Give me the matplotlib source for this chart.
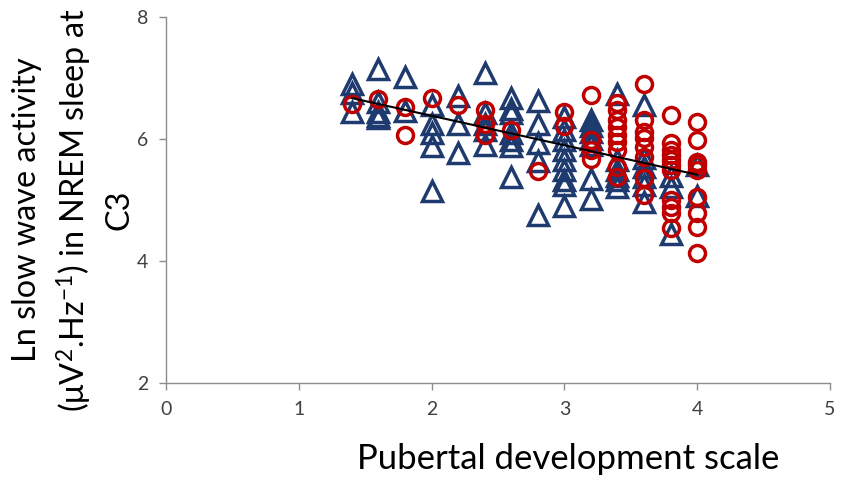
import matplotlib.pyplot as plt
import numpy as np

plt.rcParams['font.family'] = ['Lato', 'DejaVu Sans']
plt.rcParams['mathtext.fontset'] = 'custom'
plt.rcParams['mathtext.rm'] = 'Lato'
plt.rcParams['mathtext.it'] = 'Lato'

# series 1 (open triangles)
tri_pds = [1.4]*3 + [1.6]*5 + [1.8]*2 + [2.0]*5 + [2.2]*3 + [2.4]*5 + [2.6]*7 \
    + [2.8]*5 + [3.0]*9 + [3.2]*7 + [3.4]*6 + [3.6]*6 + [3.8]*3 + [4.0]*2
tri_swa = [6.9, 6.75, 6.45,
           7.15, 6.6, 6.45, 6.38, 6.35,
           7.02, 6.46,
           6.55, 6.25, 6.1, 5.88, 5.15,
           6.7, 6.25, 5.77,
           7.08, 6.42, 6.25, 6.15, 5.9,
           6.68, 6.5, 6.42, 6.1, 5.98, 5.88, 5.38,
           6.63, 6.24, 5.94, 5.64, 4.75,
           6.36, 6.15, 5.98, 5.82, 5.66, 5.49, 5.33, 5.25, 4.9,
           6.31, 6.22, 6.11, 6.0, 5.9, 5.34, 5.02,
           6.74, 5.66, 5.49, 5.4, 5.33, 5.22,
           6.56, 5.69, 5.54, 5.38, 5.25, 4.97,
           5.4, 5.21, 4.44,
           5.57, 5.07]

# series 2 (open circles)
circ_pds = [1.4]*1 + [1.6]*1 + [1.8]*2 + [2.0]*1 + [2.2]*1 + [2.4]*3 + [2.6]*1 \
    + [2.8]*1 + [3.0]*2 + [3.2]*4 + [3.4]*9 + [3.6]*8 + [3.8]*11 + [4.0]*9
circ_swa = [6.58,
            6.66,
            6.53, 6.06,
            6.67,
            6.55,
            6.47, 6.25, 6.07,
            6.14,
            5.48,
            6.45, 6.22,
            6.72, 5.98, 5.82, 5.68,
            6.59, 6.48, 6.31, 6.2, 6.07, 5.95, 5.82, 5.54, 5.38,
            6.9, 6.31, 6.11, 6.01, 5.87, 5.71, 5.36, 5.08,
            6.39, 5.93, 5.82, 5.74, 5.66, 5.57, 5.49, 5.0, 4.89, 4.79, 4.54,
            6.28, 5.98, 5.62, 5.57, 5.49, 5.05, 4.79, 4.56, 4.13]

x_ticks = [0, 1, 2, 3, 4, 5]
y_ticks = [2, 4, 6, 8]

fig = plt.figure(figsize=(8.45, 4.83), dpi=100)
ax = fig.add_axes([0.1964, 0.2070, 0.7858, 0.7578])

ax.plot(tri_pds, tri_swa, linestyle='none', marker='^', ms=14.5, mfc='none',
        mec='#1f3a6e', mew=2.5)
ax.plot(circ_pds, circ_swa, linestyle='none', marker='o', ms=11.5, mfc='none',
        mec='#c00000', mew=2.5)

# linear trend over all points
all_x = np.array(tri_pds + circ_pds)
all_y = np.array(tri_swa + circ_swa)
slope, icpt = np.polyfit(all_x, all_y, 1)
xs = np.array([all_x.min(), all_x.max()])
ax.plot(xs, slope*xs + icpt, color='black', lw=1.5)

ax.set_xlim(0, 5)
ax.set_ylim(2, 8)
ax.set_xticks(x_ticks)
ax.set_yticks(y_ticks)
for s in ['top', 'right']:
    ax.spines[s].set_visible(False)
for s in ['left', 'bottom']:
    ax.spines[s].set_color('#8c8c8c')
    ax.spines[s].set_linewidth(1)
ax.tick_params(direction='out', length=5, width=1, color='#8c8c8c',
               labelsize=14, labelcolor='#404040', pad=8)

fig.text(0.0864, 0.565, 'Ln slow wave activity\n(μV$^{2}$.Hz$^{-1}$) in NREM sleep at\nC3',
         rotation=90, ha='center', va='center', fontsize=23.3, linespacing=1.42)
fig.text(0.673, 0.05, 'Pubertal development scale', ha='center', va='center',
         fontsize=25)

fig.savefig('out.png', dpi=100)
